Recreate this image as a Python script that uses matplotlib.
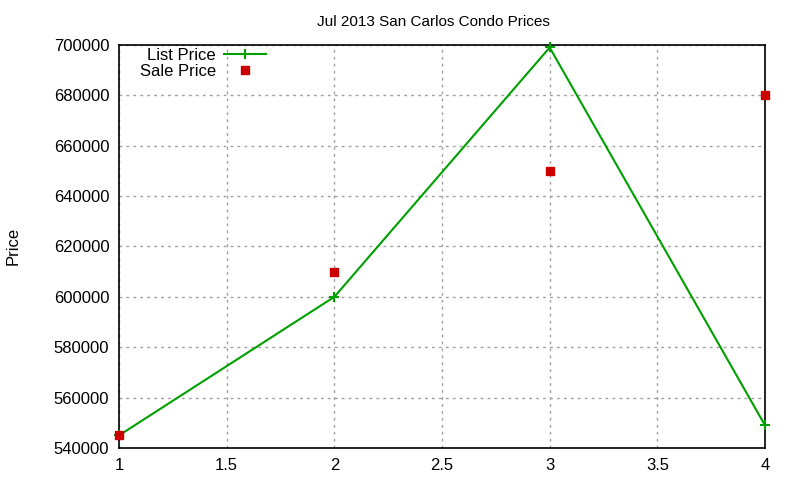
import matplotlib
matplotlib.use("Agg")
import matplotlib.pyplot as plt

plt.rcParams['font.family'] = ['Liberation Sans', 'DejaVu Sans']

x = [1, 2, 3, 4]
list_price = [545000, 600000, 699000, 549000]
sale_price = [545000, 610000, 650000, 680000]

fig = plt.figure(figsize=(8, 4.8), dpi=100)
ax = fig.add_axes([0.14875, 0.0667, 0.8075, 0.8396])

ax.plot(x, list_price, color='#00a000', lw=1.5, marker='+', ms=7, mew=1.5,
        label='List Price', clip_on=False, zorder=3)
ax.plot(x, sale_price, ls='none', marker='s', ms=6, color='#cc0000',
        label='Sale Price', clip_on=False, zorder=4)

ax.set_xlim(1, 4)
ax.set_ylim(540000, 700000)
ax.set_xticks([1, 1.5, 2, 2.5, 3, 3.5, 4])
ax.set_xticklabels(['1', '1.5', '2', '2.5', '3', '3.5', '4'])
ax.set_yticks(range(540000, 700001, 20000))
ax.tick_params(length=0, labelsize=12, pad=7)
ax.grid(True, color='#a0a0a0', ls=(0, (2, 3)), lw=1)
for s in ax.spines.values():
    s.set_linewidth(1.2)

ax.set_title('Jul 2013 San Carlos Condo Prices', fontsize=11, pad=14, x=0.486)
fig.text(0.016, 0.487, 'Price', rotation=90, va='center', ha='center', fontsize=12)

leg = ax.legend(loc='upper right', bbox_to_anchor=(0.343, 0.917),
                bbox_transform=fig.transFigure, frameon=False,
                markerfirst=False, fontsize=12, handlelength=2.5,
                borderpad=0.0, labelspacing=0.05, handletextpad=0.5)
for t in leg.get_texts():
    t.set_ha('right')
leg._legend_box.align = 'right'

fig.savefig('out.png', dpi=100)
